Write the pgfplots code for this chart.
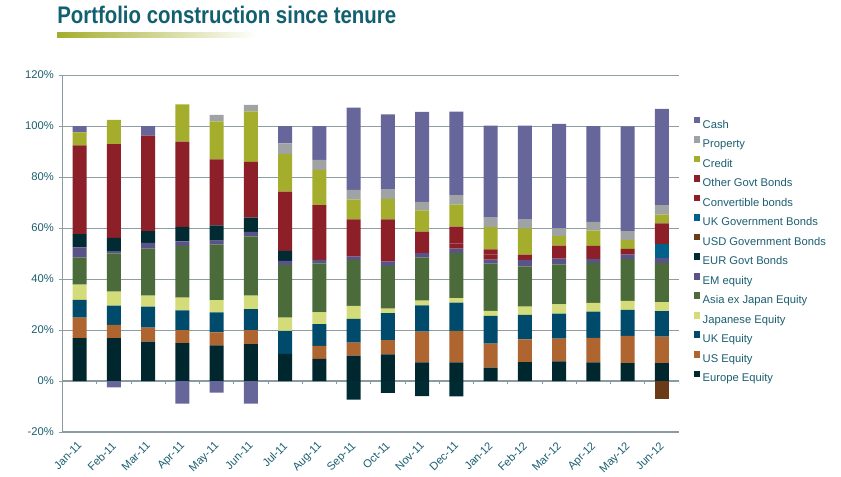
\documentclass[border=0pt]{standalone}
\usepackage{pgfplots}
\pgfplotsset{compat=1.18}
\usepackage{pgfplotstable}
\usepackage{fontspec}
\setmainfont{Liberation Sans}

\definecolor{cEur}{HTML}{00272E}
\definecolor{cUS}{HTML}{AF652F}
\definecolor{cUKE}{HTML}{004B6C}
\definecolor{cJap}{HTML}{D3DC78}
\definecolor{cAsia}{HTML}{4B6B3B}
\definecolor{cEM}{HTML}{5A5388}
\definecolor{cEURG}{HTML}{012B32}
\definecolor{cUSDG}{HTML}{6B3B18}
\definecolor{cUKG}{HTML}{00628A}
\definecolor{cConv}{HTML}{8C1F27}
\definecolor{cOth}{HTML}{8C1F27}
\definecolor{cCred}{HTML}{A4AE2C}
\definecolor{cProp}{HTML}{A0A3A4}
\definecolor{cCash}{HTML}{67669A}
\definecolor{titlec}{HTML}{12606F}
\definecolor{tickc}{HTML}{1A5E70}
\definecolor{gridc}{HTML}{8E9EA3}
\definecolor{axisc}{HTML}{8A9CA2}

\pgfplotstableread{
x Eur US UKE Jap Asia EM EURG USDG UKG Conv Oth Cred Prop Cash CashN EURN USDN
0 16.8 8.1 6.9 6.0 10.7 3.9 5.2 0 0 0 34.8 5.1 0 2.5 0 0 0
1 16.8 5.2 7.6 5.5 15.0 0.8 5.2 0 0 0 36.8 9.5 0 0 -2.5 0 0
2 15.4 5.5 8.3 4.3 18.4 2.3 4.6 0 0 0 37.4 0 0 3.8 0 0 0
3 14.9 5.1 7.7 5.0 20.3 1.8 5.6 0 0 0 33.5 14.6 0 0 -8.9 0 0
4 14.0 5.1 7.8 4.8 21.8 1.6 5.9 0 0 0 25.9 14.9 2.6 0 -4.6 0 0
5 14.5 5.5 8.2 5.3 23.2 1.8 5.6 0 0 0 21.8 19.8 2.6 0 -8.9 0 0
6 10.6 0 9.1 5.2 20.5 1.7 3.9 0 0 0 23.3 14.7 4.2 6.8 0 0 0
7 8.7 5.1 8.5 4.6 19.2 1.4 0 0 0 0 21.5 13.8 3.9 13.3 0 0 0
8 10.0 5.1 9.3 5.1 18.0 1.3 0 0 0 0 14.6 7.7 3.9 32.2 0 -7.3 0
9 10.4 5.6 10.6 1.8 16.7 1.7 0 0 0 0 16.6 8.0 3.7 29.5 0 -4.7 0
10 7.3 12.1 10.3 1.8 16.9 1.8 0 0 0 2.0 6.4 8.3 3.3 35.3 0 -5.9 0
11 7.3 12.4 11.0 1.8 17.7 1.7 0 0 0 2.0 6.6 8.7 3.7 32.7 0 -6.0 0
12 5.2 9.5 10.8 2.0 18.5 1.6 0 0 0 2.0 2.0 8.7 3.8 36.0 0 0 0
13 7.4 8.9 9.6 3.3 15.8 2.5 0 0 0 0 2.1 10.3 3.4 36.8 0 0 0
14 7.7 8.9 9.8 3.7 15.6 2.3 0 0 0 0 5.1 3.7 3.1 40.9 0 0 0
15 7.3 9.6 10.3 3.4 15.6 1.7 0 0 0 0 5.1 6.0 3.4 37.6 0 0 0
16 7.0 10.7 10.2 3.5 16.4 1.8 0 0 0 0 2.2 3.5 3.5 41.1 0 0 0
17 7.0 10.4 10.0 3.5 15.4 2.0 0 0 5.3 2.1 6.1 3.4 3.8 37.7 0 0 -7.2
}\datatable

\pgfplotsset{sqlegend/.style={legend image code/.code={\fill[##1] (0pt,0.6pt) rectangle (5pt,5.6pt);}}}

\begin{document}
\begin{tikzpicture}[x=0.75pt,y=0.75pt]
\path[use as bounding box] (0,0) rectangle (841,476);
\node[anchor=base west, inner sep=0pt, text=titlec, font=\fontsize{18}{18}\selectfont\bfseries] at (57,452) {\scalebox{0.85}[1]{Portfolio construction since tenure}};
\shade[left color=cCred, right color=white] (57,443) rectangle (257,438.5);

\begin{axis}[
  at={(46.875pt,33pt)}, anchor=south west,
  width=462.375pt, height=267.75pt, scale only axis,
  ybar stacked, bar width=10.5pt,
  xmin=-0.5, xmax=17.5, ymin=-20, ymax=120,
  axis x line*=bottom, axis y line*=left,
  axis line style={draw=axisc, line width=1.3pt},
  ytick={-20,0,...,120},
  yticklabels={-20\%,0\%,20\%,40\%,60\%,80\%,100\%,120\%},
  ymajorgrids, grid style={draw=gridc, line width=0.75pt},
  extra y ticks={0}, extra y tick labels={},
  extra y tick style={grid style={draw=axisc, line width=1.4pt}, major tick length=0pt},
  xtick={0,...,17},
  xticklabels={Jan-11,Feb-11,Mar-11,Apr-11,May-11,Jun-11,Jul-11,Aug-11,Sep-11,Oct-11,Nov-11,Dec-11,Jan-12,Feb-12,Mar-12,Apr-12,May-12,Jun-12},
  xtick style={draw=none},
  ytick style={draw=gridc, line width=0.75pt},
  tick align=outside, major tick length=3pt,
  tick label style={font=\fontsize{8.4}{10}\selectfont, text=tickc},
  xticklabel style={rotate=45, anchor=north east, inner sep=1pt, xshift=-3pt},
  every axis plot/.append style={draw=none, sqlegend},
  reverse legend, legend cell align=left,
  legend style={at={(1.024,0.890)}, anchor=north west, draw=none, fill=none,
    inner sep=0pt, outer sep=0pt, row sep=0pt, column sep=1.7pt,
    nodes={inner sep=0pt, text height=10.3pt, text depth=4.35pt, text=tickc, font=\fontsize{8.4}{10}\selectfont}},
]
\addplot[fill=cEur] table[x=x,y=Eur]{\datatable}; \addlegendentry{Europe Equity}
\addplot[fill=cUS] table[x=x,y=US]{\datatable}; \addlegendentry{US Equity}
\addplot[fill=cUKE] table[x=x,y=UKE]{\datatable}; \addlegendentry{UK Equity}
\addplot[fill=cJap] table[x=x,y=Jap]{\datatable}; \addlegendentry{Japanese Equity}
\addplot[fill=cAsia] table[x=x,y=Asia]{\datatable}; \addlegendentry{Asia ex Japan Equity}
\addplot[fill=cEM] table[x=x,y=EM]{\datatable}; \addlegendentry{EM equity}
\addplot[fill=cEURG] table[x=x,y=EURG]{\datatable}; \addlegendentry{EUR Govt Bonds}
\addplot[fill=cUSDG] table[x=x,y=USDG]{\datatable}; \addlegendentry{USD Government Bonds}
\addplot[fill=cUKG] table[x=x,y=UKG]{\datatable}; \addlegendentry{UK Government Bonds}
\addplot[fill=cConv] table[x=x,y=Conv]{\datatable}; \addlegendentry{Convertible bonds}
\addplot[fill=cOth] table[x=x,y=Oth]{\datatable}; \addlegendentry{Other Govt Bonds}
\addplot[fill=cCred] table[x=x,y=Cred]{\datatable}; \addlegendentry{Credit}
\addplot[fill=cProp] table[x=x,y=Prop]{\datatable}; \addlegendentry{Property}
\addplot[fill=cCash] table[x=x,y=Cash]{\datatable}; \addlegendentry{Cash}
\pgfplotsinvokeforeach{0,...,17}{\draw[draw=axisc, line width=0.75pt] (axis cs:#1+0.5,0) -- ++(0pt,-2.5pt);}
\end{axis}

\begin{axis}[
  at={(46.875pt,33pt)}, anchor=south west,
  width=462.375pt, height=267.75pt, scale only axis,
  ybar stacked, bar width=10.5pt,
  xmin=-0.5, xmax=17.5, ymin=-20, ymax=120,
  hide axis,
  every axis plot/.append style={draw=none},
]
\addplot[fill=cCash] table[x=x,y=CashN]{\datatable};
\addplot[fill=cEURG] table[x=x,y=EURN]{\datatable};
\addplot[fill=cUSDG] table[x=x,y=USDN]{\datatable};
\end{axis}
\end{tikzpicture}
\end{document}
